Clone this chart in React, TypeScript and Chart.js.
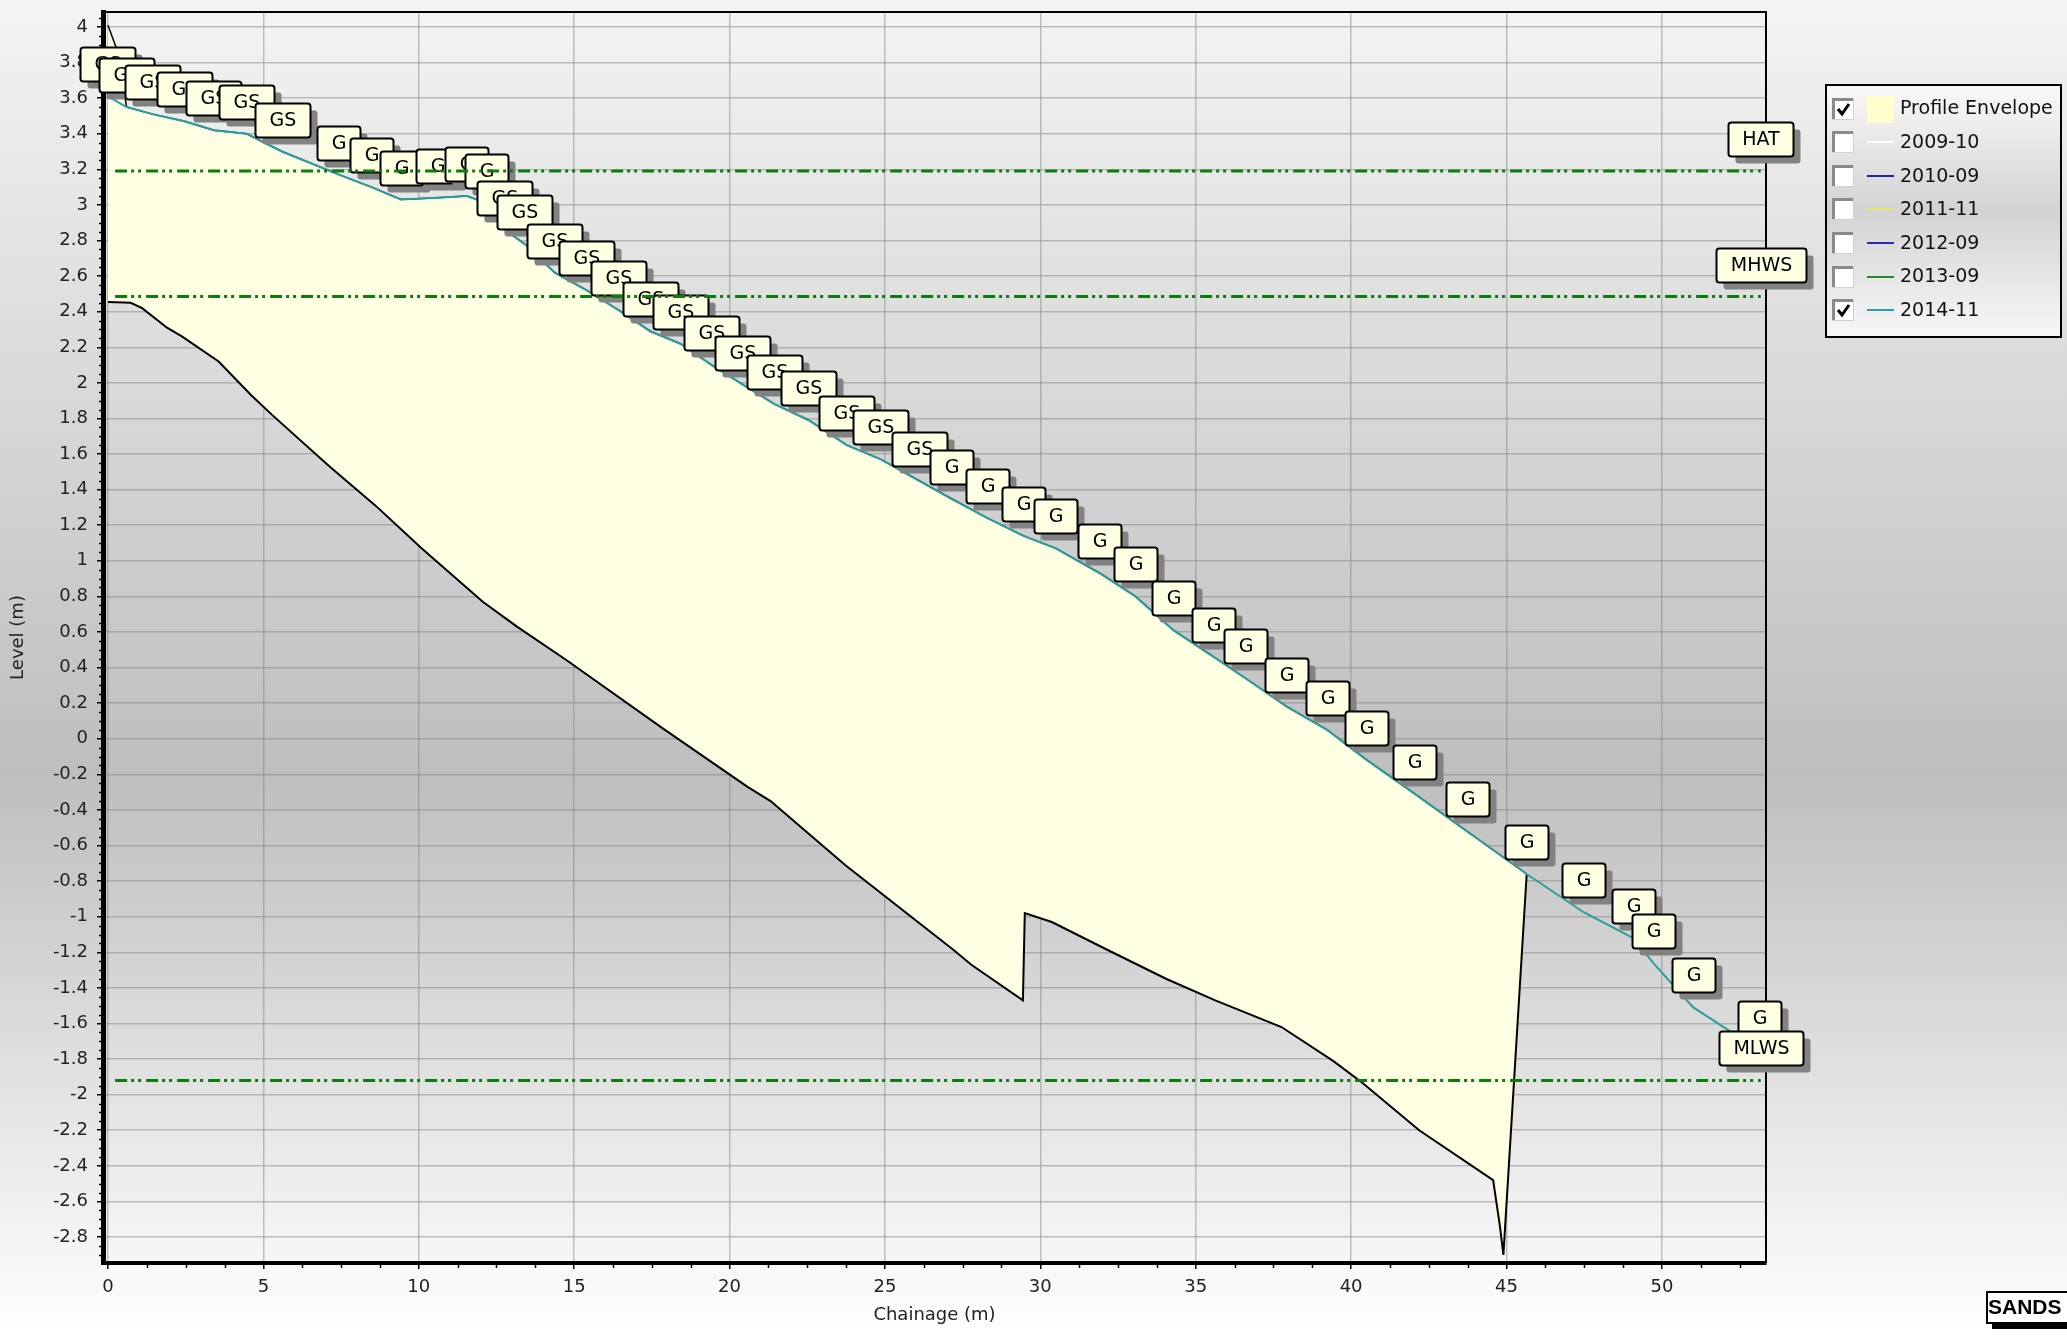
import React, { useEffect, useRef } from 'react';
import { Chart, registerables } from 'chart.js';

Chart.register(...registerables);

// ---- Axis ticks ----
const xTickValues = [0, 5, 10, 15, 20, 25, 30, 35, 40, 45, 50];
const yTickValues = [
  4, 3.8, 3.6, 3.4, 3.2, 3, 2.8, 2.6, 2.4, 2.2, 2, 1.8, 1.6, 1.4, 1.2, 1, 0.8, 0.6, 0.4, 0.2, 0,
  -0.2, -0.4, -0.6, -0.8, -1, -1.2, -1.4, -1.6, -1.8, -2, -2.2, -2.4, -2.6, -2.8,
];

// ---- 2014-11 profile (chainage m, level m) ----
const profileX = [
  0, 0.6, 1.43, 2.46, 3.41, 4.46, 5.6, 7.43, 8.48, 9.43, 10.6, 11.55, 12.18, 12.77,
  13.41, 14.37, 15.41, 16.42, 17.45, 18.42, 19.43, 20.43, 21.45, 22.55, 23.77, 24.87, 26.1, 27.13,
  28.3, 29.46, 30.5, 31.92, 33.06, 34.28, 35.58, 36.6, 37.93, 39.23, 40.51, 42.05, 43.73, 45.65,
  47.48, 49.08, 49.72, 51.01, 53.13,
];
const profileY = [
  3.61, 3.55, 3.51, 3.47, 3.42, 3.4, 3.3, 3.17, 3.1, 3.03, 3.04, 3.05, 3.01, 2.86,
  2.78, 2.62, 2.52, 2.41, 2.29, 2.22, 2.1, 1.99, 1.88, 1.79, 1.65, 1.57, 1.45, 1.35,
  1.24, 1.14, 1.07, 0.93, 0.8, 0.61, 0.46, 0.34, 0.18, 0.05, -0.12, -0.31, -0.52, -0.76,
  -0.975, -1.12, -1.26, -1.51, -1.75,
];
const sedimentCodes = [
  'GS', 'GS', 'GS', 'GS', 'GS', 'GS', 'GS', 'G', 'G', 'G', 'G', 'G', 'G', 'GS',
  'GS', 'GS', 'GS', 'GS', 'GS', 'GS', 'GS', 'GS', 'GS', 'GS', 'GS', 'GS', 'GS', 'G',
  'G', 'G', 'G', 'G', 'G', 'G', 'G', 'G', 'G', 'G', 'G', 'G', 'G', 'G',
  'G', 'G', 'G', 'G', 'G',
];

// ---- Profile envelope ----
const envelopeTopX = [0, 0.25];
const envelopeTopY = [4.01, 3.89];
const envelopeBottomX = [
  0, 0.73, 1.1, 1.9, 2.39, 3.56, 4.61, 5.28, 7.13, 8.61, 10.09, 12.06, 13.16, 14.77, 17.84,
  20.58, 21.32, 23.72, 27.23, 27.78, 29.44, 29.5, 30.37, 32.2, 34.06, 35.63, 37.76, 39.42,
  40.34, 42.19, 44.57, 44.79, 44.9, 45.65,
];
const envelopeBottomY = [
  2.455, 2.45, 2.42, 2.31, 2.26, 2.12, 1.93, 1.82, 1.53, 1.31, 1.07, 0.77, 0.63, 0.44, 0.06,
  -0.27, -0.35, -0.71, -1.19, -1.27, -1.47, -0.98, -1.03, -1.19, -1.35, -1.47, -1.62, -1.81,
  -1.93, -2.2, -2.48, -2.74, -2.9, -0.76,
];

// ---- Tide levels ----
const tideNames = ['HAT', 'MHWS', 'MLWS'];
const tideLevels = [3.19, 2.485, -1.92];
const tideFromX = 0.23;
const tideToX = 53.18;

// ---- Legend ----
const legendNames = ['Profile Envelope', '2009-10', '2010-09', '2011-11', '2012-09', '2013-09', '2014-11'];
const legendColors = ['#ffffcc', '#ffffff', '#22229a', '#e4e46a', '#2a2ac0', '#2a8a2a', '#2aa0a0'];
const legendChecked = [true, false, false, false, false, false, true];

const FONT = '"DejaVu Sans", sans-serif';
const PROFILE_INDEX = 3;

const pts = (xs: number[], ys: number[]) => xs.map((x, i) => ({ x, y: ys[i] }));

function roundRectPath(ctx: CanvasRenderingContext2D, x: number, y: number, w: number, h: number, r: number) {
  ctx.beginPath();
  ctx.moveTo(x + r, y);
  ctx.lineTo(x + w - r, y);
  ctx.quadraticCurveTo(x + w, y, x + w, y + r);
  ctx.lineTo(x + w, y + h - r);
  ctx.quadraticCurveTo(x + w, y + h, x + w - r, y + h);
  ctx.lineTo(x + r, y + h);
  ctx.quadraticCurveTo(x, y + h, x, y + h - r);
  ctx.lineTo(x, y + r);
  ctx.quadraticCurveTo(x, y, x + r, y);
  ctx.closePath();
}

function drawMark(ctx: CanvasRenderingContext2D, cx: number, py: number, text: string) {
  ctx.save();
  ctx.font = `19px ${FONT}`;
  const tw = ctx.measureText(text).width;
  const w = Math.round(tw + 28);
  const h = 34;
  const left = Math.round(cx - w / 2) + 0.5;
  const top = Math.round(py - 15 - h) + 0.5;
  roundRectPath(ctx, left + 7, top + 7, w, h, 3);
  ctx.fillStyle = '#828282';
  ctx.fill();
  roundRectPath(ctx, left, top, w, h, 3);
  ctx.fillStyle = '#ffffe3';
  ctx.fill();
  ctx.lineWidth = 2;
  ctx.strokeStyle = '#000';
  ctx.stroke();
  ctx.fillStyle = '#000';
  ctx.textAlign = 'center';
  ctx.textBaseline = 'middle';
  ctx.fillText(text, left + w / 2, top + h / 2 + 1);
  ctx.restore();
}

function drawLegend(ctx: CanvasRenderingContext2D) {
  const L = 1826, T = 85, R = 2061, B = 337;
  ctx.save();
  const g = ctx.createLinearGradient(0, T, 0, B);
  g.addColorStop(0, '#f9f9f9');
  g.addColorStop(0.5, '#d3d3d3');
  g.addColorStop(1, '#f7f7f7');
  ctx.fillStyle = g;
  ctx.fillRect(L, T, R - L, B - T);
  ctx.strokeStyle = '#000';
  ctx.lineWidth = 2;
  ctx.strokeRect(L, T, R - L, B - T);
  const rowY0 = 108.5;
  const step = 33.6;
  legendNames.forEach((name, i) => {
    const ry = rowY0 + i * step;
    const cb = 1832, s = 22;
    const ct = Math.round(ry - s / 2);
    ctx.fillStyle = '#ffffff';
    ctx.fillRect(cb, ct, s, s);
    ctx.fillStyle = '#8a8a8a';
    ctx.fillRect(cb, ct, s, 3);
    ctx.fillRect(cb, ct, 3, s);
    ctx.fillStyle = '#d0d0d0';
    ctx.fillRect(cb, ct + s - 1, s, 1);
    ctx.fillRect(cb + s - 1, ct, 1, s);
    if (legendChecked[i]) {
      ctx.strokeStyle = '#000';
      ctx.lineWidth = 3;
      ctx.beginPath();
      ctx.moveTo(cb + 6, ct + 11);
      ctx.lineTo(cb + 10, ct + 16);
      ctx.lineTo(cb + 17, ct + 6);
      ctx.stroke();
    }
    if (i === 0) {
      ctx.fillStyle = legendColors[0];
      ctx.fillRect(1867, Math.round(ry - 13), 27, 27);
    } else {
      ctx.strokeStyle = legendColors[i];
      ctx.lineWidth = 2;
      ctx.beginPath();
      ctx.moveTo(1867, Math.round(ry));
      ctx.lineTo(1894, Math.round(ry));
      ctx.stroke();
    }
    ctx.fillStyle = '#111';
    ctx.font = `19px ${FONT}`;
    ctx.textAlign = 'left';
    ctx.textBaseline = 'middle';
    ctx.fillText(name, 1900, ry + 1);
  });
  ctx.restore();
}

function drawLogo(ctx: CanvasRenderingContext2D) {
  ctx.save();
  ctx.fillStyle = '#000';
  ctx.fillRect(1992, 1322, 80, 7);
  ctx.fillStyle = '#ffffff';
  ctx.fillRect(1987, 1292, 90, 31);
  ctx.strokeStyle = '#000';
  ctx.lineWidth = 2;
  ctx.strokeRect(1987, 1292, 90, 31);
  ctx.fillStyle = '#000';
  ctx.font = 'bold 21px "Liberation Sans", Arial, sans-serif';
  ctx.textAlign = 'left';
  ctx.textBaseline = 'middle';
  ctx.fillText('SANDS', 1988, 1308);
  ctx.restore();
}

const decorPlugin = {
  id: 'decor',
  beforeDraw(chart: any) {
    const { ctx, width, height } = chart;
    ctx.save();
    const g = ctx.createLinearGradient(0, 0, 0, height);
    g.addColorStop(0, '#f4f4f4');
    g.addColorStop(0.58, '#bebebe');
    g.addColorStop(1, '#ffffff');
    ctx.fillStyle = g;
    ctx.fillRect(0, 0, width, height);
    ctx.restore();
  },
  beforeDatasetsDraw(chart: any) {
    const { ctx, chartArea: a, scales } = chart;
    const xs = scales.x;
    const ys = scales.y;
    ctx.save();
    // frame top / right
    ctx.strokeStyle = '#000';
    ctx.lineWidth = 2;
    ctx.beginPath();
    ctx.moveTo(a.left, a.top);
    ctx.lineTo(a.right, a.top);
    ctx.lineTo(a.right, a.bottom);
    ctx.stroke();
    // minor ticks
    ctx.lineWidth = 1.5;
    for (let k = 1; k * 1.25 <= xs.max; k++) {
      if (k % 4 === 0) continue;
      const px = Math.round(xs.getPixelForValue(k * 1.25)) + 0.5;
      ctx.beginPath();
      ctx.moveTo(px, a.bottom);
      ctx.lineTo(px, a.bottom + 5);
      ctx.stroke();
    }
    const k0 = Math.ceil(ys.min / 0.05);
    const k1 = Math.floor(ys.max / 0.05);
    for (let k = k0; k <= k1; k++) {
      if (k % 4 === 0) continue;
      const py = Math.round(ys.getPixelForValue(k * 0.05)) + 0.5;
      ctx.beginPath();
      ctx.moveTo(a.left - 4, py);
      ctx.lineTo(a.left, py);
      ctx.stroke();
    }
    ctx.restore();
  },
  afterDatasetDraw(chart: any, args: any) {
    if (args.index !== PROFILE_INDEX) return;
    const { ctx, scales } = chart;
    profileX.forEach((x, i) => {
      drawMark(ctx, scales.x.getPixelForValue(x), scales.y.getPixelForValue(profileY[i]), sedimentCodes[i]);
    });
  },
  afterDatasetsDraw(chart: any) {
    const { ctx, scales } = chart;
    tideNames.forEach((name, i) => {
      drawMark(ctx, scales.x.getPixelForValue(tideToX), scales.y.getPixelForValue(tideLevels[i]), name);
    });
  },
  afterDraw(chart: any) {
    drawLegend(chart.ctx);
    drawLogo(chart.ctx);
  },
};

export default function App() {
  const canvasRef = useRef<HTMLCanvasElement | null>(null);

  useEffect(() => {
    document.body.style.margin = '0';
    document.body.style.overflow = 'hidden';
    const canvas = canvasRef.current;
    if (!canvas) return;

    const profilePts = pts(profileX, profileY);
    const lastBottomX = envelopeBottomX[envelopeBottomX.length - 1];
    const envTop = [
      ...pts(envelopeTopX, envelopeTopY),
      ...profilePts.filter((p) => p.x >= 0.5 && p.x <= lastBottomX),
    ];
    const envBottom = pts(envelopeBottomX, envelopeBottomY);
    const envPolygon = [...envTop, ...envBottom.slice().reverse()];

    const tideSets = tideNames.map((name, i) => ({
      label: name,
      data: [
        { x: tideFromX, y: tideLevels[i] },
        { x: tideToX, y: tideLevels[i] },
      ],
      showLine: true,
      borderColor: '#0b7d0b',
      borderWidth: 3,
      borderDash: [12, 4, 3, 4, 3, 5],
      borderCapStyle: 'butt',
      pointRadius: 0,
      fill: false,
    }));

    const chart = new Chart(canvas, {
      type: 'scatter',
      data: {
        datasets: [
          ...tideSets,
          {
            label: '2014-11',
            data: profilePts,
            showLine: true,
            borderColor: '#2b9f9f',
            borderWidth: 2,
            pointRadius: 0,
            fill: false,
          },
          {
            label: 'envelope top',
            data: envTop,
            showLine: true,
            borderColor: '#000',
            borderWidth: 1.5,
            pointRadius: 0,
            fill: false,
          },
          {
            label: 'envelope bottom',
            data: envBottom,
            showLine: true,
            borderColor: '#000',
            borderWidth: 2,
            pointRadius: 0,
            fill: false,
          },
          {
            label: 'Profile Envelope',
            data: envPolygon,
            showLine: true,
            borderWidth: 0,
            borderColor: 'rgba(0,0,0,0)',
            backgroundColor: '#fefee3',
            pointRadius: 0,
            fill: 'shape',
          },
        ] as any,
      },
      options: {
        animation: false,
        responsive: true,
        maintainAspectRatio: false,
        events: [],
        layout: { padding: { left: 0, top: 12, right: 301, bottom: 0 } },
        plugins: {
          legend: { display: false },
          tooltip: { enabled: false },
        },
        elements: { line: { tension: 0 } },
        scales: {
          x: {
            type: 'linear',
            min: -0.16,
            max: 53.35,
            afterBuildTicks: (s: any) => {
              s.ticks = xTickValues.map((v) => ({ value: v }));
            },
            afterFit: (s: any) => {
              s.height = 72;
              s.paddingLeft = 0;
              s.paddingRight = 0;
            },
            ticks: {
              color: '#222',
              font: { size: 18, family: FONT },
              padding: 8,
              maxRotation: 0,
              autoSkip: false,
              callback: (v: any) => String(v),
            },
            grid: {
              color: 'rgba(125,125,125,0.45)',
              lineWidth: 1.5,
              drawTicks: true,
              tickLength: 6,
              tickColor: '#000',
              tickWidth: 1.5,
            },
            border: { display: true, color: '#000', width: 4 },
            title: {
              display: true,
              text: 'Chainage (m)',
              color: '#222',
              font: { size: 18, family: FONT },
              padding: { top: 0, bottom: 8.5 },
            },
          },
          y: {
            type: 'linear',
            min: -2.946,
            max: 4.084,
            afterBuildTicks: (s: any) => {
              s.ticks = yTickValues.map((v) => ({ value: v }));
            },
            afterFit: (s: any) => {
              s.width = 103;
              s.paddingTop = 0;
              s.paddingBottom = 0;
            },
            ticks: {
              color: '#222',
              font: { size: 18, family: FONT },
              padding: 9,
              autoSkip: false,
              callback: (v: any) => String(Math.round(Number(v) * 10) / 10),
            },
            grid: {
              color: 'rgba(125,125,125,0.45)',
              lineWidth: 1.5,
              drawTicks: true,
              tickLength: 6,
              tickColor: '#000',
              tickWidth: 1.5,
            },
            border: { display: true, color: '#000', width: 5 },
            title: {
              display: true,
              text: 'Level (m)',
              color: '#222',
              font: { size: 18, family: FONT },
              padding: { top: 7.7, bottom: 0 },
            },
          },
        },
      } as any,
      plugins: [decorPlugin as any],
    });

    return () => {
      chart.destroy();
    };
  }, []);

  return (
    <div style={{ position: 'absolute', left: 0, top: 0, width: '2067px', height: '1335px' }}>
      <canvas ref={canvasRef} />
    </div>
  );
}
